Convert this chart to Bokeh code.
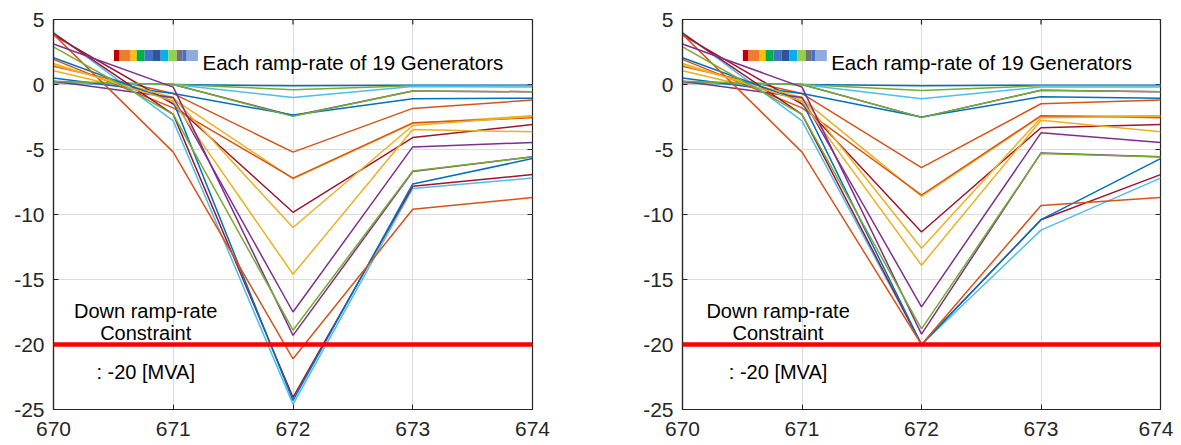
import math
from bokeh.plotting import figure
from bokeh.layouts import row
from bokeh.models import Range1d, FixedTicker, Span
from bokeh.core.properties import value
from bokeh.embed import file_html
from bokeh.resources import INLINE

# ---------------- data ----------------
time_steps = [670, 671, 672, 673, 674]
x_ticks = [670, 671, 672, 673, 674]
y_ticks = [-25, -20, -15, -10, -5, 0, 5]

# ramp-rate of the 19 generators at each time step (MATLAB colour order)
ramp_670 = [0.1, 1.4, 1.06, 0.2, 0.2, 0.1, 3.8, 0.5, 1.93, 1.49,
            0.25, 0.25, 4.01, 3.93, 2.06, 3.86, 1.62, 3.11, 2.9]
ramp_671 = [0.0, -0.7, -1.1, 0.0, 0.0, 0.0, -1.5, -0.7, -1.8, -1.0,
            -1.0, 0.0, -2.8, -2.3, -1.3, -5.2, -1.3, -0.2, -2.3]
ramp_672_left = [-0.1, -5.2, -7.25, -2.4, -0.4, -1.0, -9.83, -2.35, -7.2, -11.0,
                 -17.5, -2.45, -24.6, -24.06, -24.3, -21.1, -14.6, -19.3, -18.9]
ramp_673_left = [-0.05, -1.84, -3.0, -0.5, -0.1, -0.15, -4.08, -1.1, -2.95, -3.15,
                 -4.8, -0.5, -8.0, -7.83, -7.65, -9.6, -3.46, -6.7, -6.65]
ramp_672_right = [-0.1, -6.4, -8.6, -2.53, -0.46, -1.1, -11.35, -2.5, -8.5, -12.6,
                  -17.1, -2.53, -20.0, -20.0, -20.0, -20.0, -13.9, -19.2, -18.8]
ramp_673_right = [-0.05, -1.48, -2.45, -0.45, -0.1, -0.2, -3.33, -0.95, -2.4, -2.55,
                  -3.72, -0.45, -11.2, -10.4, -10.4, -9.3, -2.75, -5.26, -5.3]
ramp_674 = [-0.05, -1.2, -2.4, -0.56, -0.1, -0.2, -3.08, -1.05, -2.56, -2.45,
            -4.46, -0.56, -7.2, -6.93, -5.7, -8.7, -3.64, -5.55, -5.57]

constraint = -20
legend_label = "Each ramp-rate of 19 Generators"
note_lines = ["Down ramp-rate", "Constraint", ": -20 [MVA]"]

# ---------------- style ----------------
FONT = "Liberation Sans"
AX = "#262626"
MATLAB_COLORS = ["#0072BD", "#D95319", "#EDB120", "#7E2F8E",
                 "#77AC30", "#4DBEEE", "#A2142F"]
LEGEND_COLORS = ["#C00000", "#ED7D31", "#FFC000", "#00B050", "#4472C4", "#2F5597",
                 "#00B0F0", "#92D050", "#767171", "#4472C4", "#8FAADC"]
LEGEND_SEG_PX = [5.7, 11, 6, 8, 8.3, 7.7, 7.7, 8.3, 5.7, 4.3, 11.3]
X_MIN, X_MAX, Y_MIN, Y_MAX = 670, 674, -25, 5


def make_panel(v672, v673, note_x, b_left, b_right, fw):
    p = figure(frame_width=fw, frame_height=390,
               x_range=Range1d(X_MIN, X_MAX), y_range=Range1d(Y_MIN, Y_MAX),
               output_backend="svg", toolbar_location=None,
               min_border_left=b_left, min_border_right=b_right,
               min_border_top=19, min_border_bottom=36)
    p.outline_line_color = AX
    p.outline_line_width = 1.2
    p.background_fill_color = "white"
    p.border_fill_color = "white"

    p.xaxis.ticker = FixedTicker(ticks=x_ticks)
    p.yaxis.ticker = FixedTicker(ticks=y_ticks)
    p.xaxis.major_label_overrides = {t: str(t) for t in x_ticks}
    p.yaxis.major_label_overrides = {t: str(t) for t in y_ticks}
    for ax in (p.xaxis[0], p.yaxis[0]):
        ax.axis_line_color = AX
        ax.axis_line_width = 1.2
        ax.major_tick_line_color = AX
        ax.major_tick_in = 5
        ax.major_tick_out = 0
        ax.minor_tick_line_color = None
        ax.major_label_text_font = FONT
        ax.major_label_text_color = AX
        ax.major_label_text_font_size = "21px"
    p.xaxis.major_label_standoff = 12
    p.yaxis.major_label_standoff = 9

    # inward tick marks on the top and right edges of the box
    p.ray(x=x_ticks, y=Y_MAX, length=5, length_units="screen",
          angle=-math.pi / 2, line_color=AX, line_width=1.2)
    p.ray(x=X_MAX, y=y_ticks, length=5, length_units="screen",
          angle=math.pi, line_color=AX, line_width=1.2)

    p.grid.grid_line_color = "#dcdcdc"
    p.grid.grid_line_width = 1

    for i in range(len(ramp_670)):
        ys = [ramp_670[i], ramp_671[i], v672[i], v673[i], ramp_674[i]]
        p.line(time_steps, ys, line_color=MATLAB_COLORS[i % 7], line_width=1.5)

    p.add_layout(Span(location=constraint, dimension="width",
                      line_color="#FF0000", line_width=4.5))

    # legend-like colour bar and label
    px_per_unit = fw / (X_MAX - X_MIN)
    x0 = 670.505
    lefts, rights = [], []
    cur = x0
    for w in LEGEND_SEG_PX:
        lefts.append(cur)
        cur += w / px_per_unit
        rights.append(cur)
    p.quad(left=lefts, right=rights, bottom=1.80, top=2.65,
           fill_color=LEGEND_COLORS, line_color=None)
    p.text(x=[671.244], y=[1.67], text=[legend_label],
           text_font=value(FONT), text_font_size=value("20.5px"),
           text_color="black", text_align="left", text_baseline="alphabetic")

    p.text(x=[note_x] * 3, y=[-17.46, -19.15, -22.15], text=note_lines,
           text_font=value(FONT), text_font_size=value("20px"),
           text_color="black", text_align="center", text_baseline="alphabetic")
    return p


p1 = make_panel(ramp_672_left, ramp_673_left, 670.77, 53, 75, 479)
p2 = make_panel(ramp_672_right, ramp_673_right, 670.80, 75, 13, 478)

layout = row(p1, p2)
open("out.html", "w").write(file_html(layout, INLINE))
